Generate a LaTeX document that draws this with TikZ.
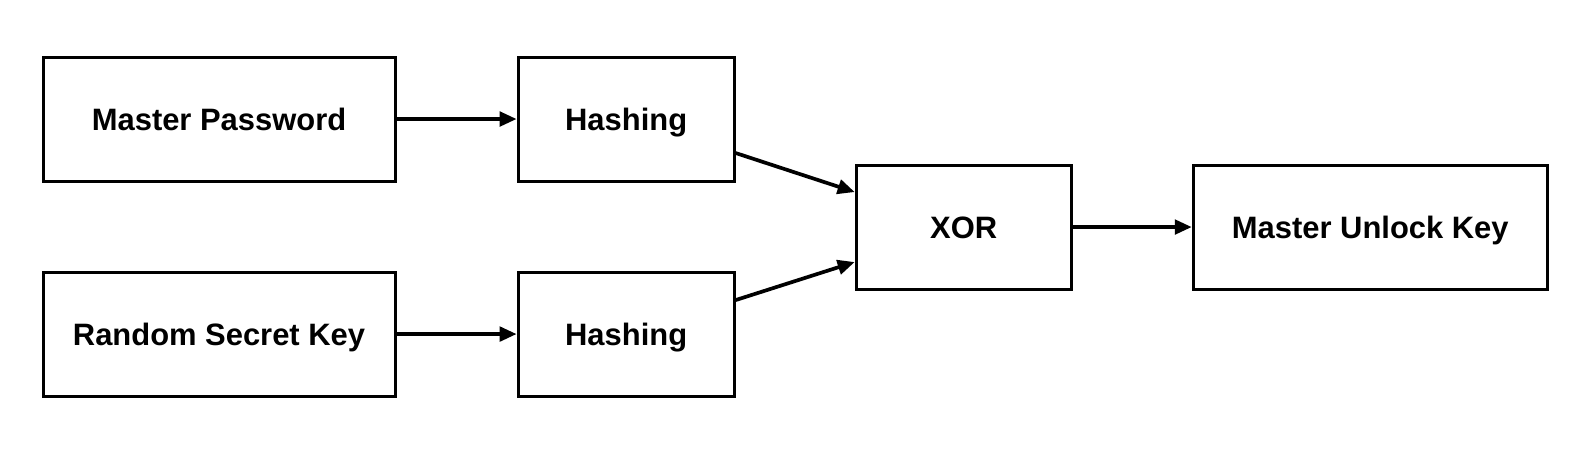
\documentclass[tikz,border=0pt]{standalone}
\usepackage{fontspec}
\setmainfont{Liberation Sans}
\usepackage{tikz}
\usetikzlibrary{arrows.meta}
\usetikzlibrary{positioning}
\usetikzlibrary{calc}
\tikzstyle{block}=[rectangle,draw=black,line width=1.7pt,inner sep=0pt,minimum height=2.48cm,text height=12.6pt,text depth=0pt,font=\fontsize{17.6}{20}\selectfont\bfseries]
\tikzstyle{edge} = [draw,line width=2.1pt,-{Triangle[length=0.34cm,width=0.29cm]}]

\begin{document}
\begin{tikzpicture}[scale=1., auto,swap]

 \path[use as bounding box] (0,0) rectangle (31.8,-9.04);

 %boxes
  \def\u{0.02};

   \foreach \x/\y/\w/\name/\label in { 219/119/352/pw/Master Password, 626/119/216/hashA/Hashing, 219/334/352/key/Random Secret Key, 626/334/216/hashB/Hashing}
          \node[block, minimum width=\w*\u cm] (\name) at (\x*\u, -\y*\u) {\label};

   \foreach \x/\y/\w/\name/\label in { 963.5/227/215/xor/XOR, 1370/227/354/muk/Master Unlock Key}
          \node[block, minimum width=\w*\u cm] (\name) at (\x*\u, -\y*\u) {\label};

 %arrows
  \foreach \source/ \dest in {pw/hashA, key/hashB, xor/muk}
         \path[edge] (\source) -- (\dest);

  \path[edge] ([yshift=-0.68cm]hashA.east) -- ([yshift=0.7cm]xor.west);
  \path[edge] ([yshift=0.68cm]hashB.east) -- ([yshift=-0.7cm]xor.west);

   \end{tikzpicture}
\end{document}
